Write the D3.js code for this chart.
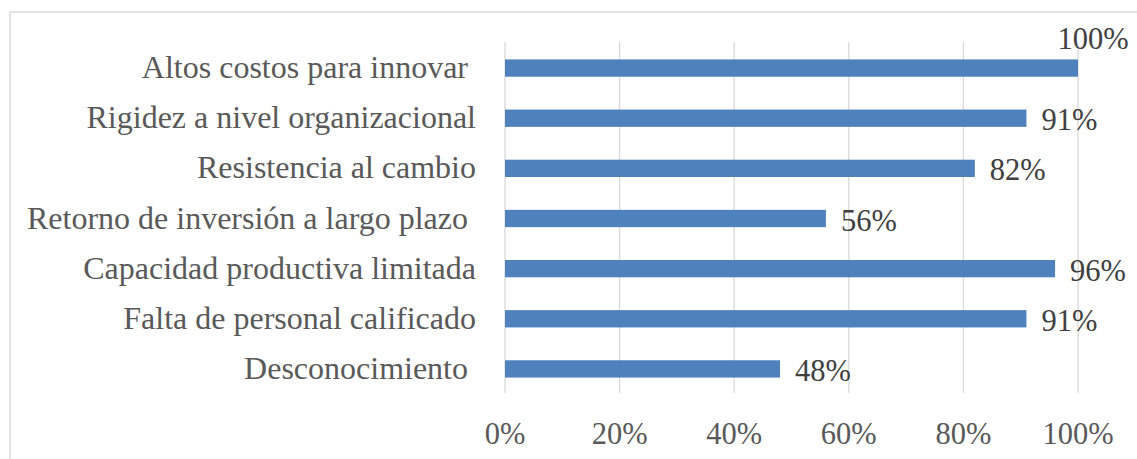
<!DOCTYPE html>
<html>
<head>
<meta charset="utf-8">
<script src="https://cdn.jsdelivr.net/npm/d3@7"></script>
<style>
  html, body { margin: 0; padding: 0; background: #fff; }
  svg text { font-family: "Liberation Serif", "Times New Roman", "DejaVu Serif", serif; fill: #595959; white-space: pre; }
</style>
</head>
<body>
<svg id="chart" width="1137" height="459"></svg>
<script>
const categories = [
  "Altos costos para innovar ",
  "Rigidez a nivel organizacional",
  "Resistencia al cambio",
  "Retorno de inversión a largo plazo ",
  "Capacidad productiva limitada",
  "Falta de personal calificado",
  "Desconocimiento "
];
const values = [1.00, 0.91, 0.82, 0.56, 0.96, 0.91, 0.48];
const tickValues = [0, 0.2, 0.4, 0.6, 0.8, 1.0];
const tickLabels = ["0%", "20%", "40%", "60%", "80%", "100%"];
const valueLabels = ["100%", "91%", "82%", "56%", "96%", "91%", "48%"];

const svg = d3.select("#chart");
const FONT = "'Liberation Serif', 'Times New Roman', 'DejaVu Serif', serif";

// chart border
svg.append("rect")
  .attr("x", 10).attr("y", 12)
  .attr("width", 1140).attr("height", 470)
  .attr("fill", "none").attr("stroke", "#d9d9d9").attr("stroke-width", 1.5);

const x = d3.scaleLinear().domain([0, 1]).range([505, 1078]);
const y = d3.scaleBand().domain(categories).range([43, 394]).paddingInner(0.655).paddingOuter(0.3275);

// gridlines
svg.append("g").selectAll("line").data(tickValues).join("line")
  .attr("x1", d => x(d)).attr("x2", d => x(d))
  .attr("y1", 42).attr("y2", 393)
  .attr("stroke", "#d9d9d9").attr("stroke-width", 1.3);

// x tick labels
svg.append("g").selectAll("text").data(tickValues).join("text")
  .attr("x", d => x(d)).attr("y", 444)
  .attr("text-anchor", "middle")
  .attr("font-family", FONT)
  .attr("font-size", 30.5)
  .text((d, i) => tickLabels[i]);

// bars
svg.append("g").selectAll("rect").data(categories).join("rect")
  .attr("x", x(0))
  .attr("y", d => y(d))
  .attr("width", (d, i) => x(values[i]) - x(0))
  .attr("height", y.bandwidth())
  .attr("fill", "#4f81bd");

// category labels
svg.append("g").selectAll("text").data(categories).join("text")
  .attr("x", 476)
  .attr("y", d => y(d) + y.bandwidth() / 2 + 10)
  .attr("text-anchor", "end")
  .attr("font-family", FONT)
  .attr("font-size", 32)
  .text(d => d);

// value labels
svg.append("g").selectAll("text").data(categories).join("text")
  .attr("x", (d, i) => x(values[i]) + 15)
  .attr("y", (d, i) => {
    const cy = y(d) + y.bandwidth() / 2;
    return values[i] >= 0.995 ? cy - 19 : cy + 12;
  })
  .attr("text-anchor", (d, i) => values[i] >= 0.995 ? "middle" : "start")
  .attr("font-family", FONT)
  .attr("font-size", 30.5)
  .style("fill", "#404040")
  .text((d, i) => valueLabels[i]);
</script>
</body>
</html>
